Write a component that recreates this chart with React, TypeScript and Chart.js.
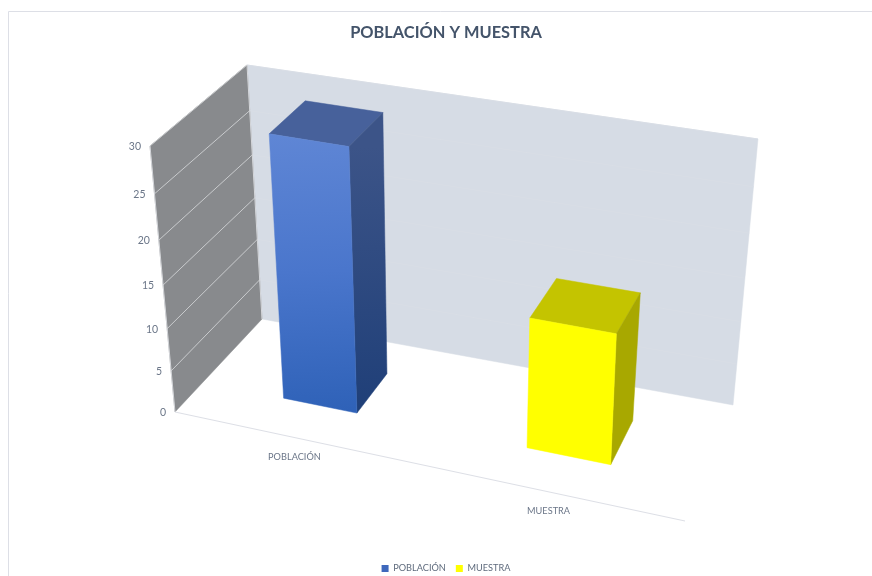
import React, { useEffect, useRef } from "react";
import { Chart, registerables } from "chart.js";

Chart.register(...registerables);

const categories = ["POBLACIÓN", "MUESTRA"];
const seriesValues = [30, 15];
const seriesName = "Serie 1";
const yTicksMax = 30;
const yTickStep = 5;
const swatchColors = ["#3E68BC", "#FFFF00"];

// Shading of each bar's three visible faces
const frontShades = [["#5F86D5", "#4A76CC", "#2F62B8"], ["#FFFF00", "#FFFF00", "#FFFF00"]];
const sideShades = [["#3C5488", "#1F3F78"], ["#A8A800", "#A8A800"]];
const topShades = ["#47619B", "#C4C400"];

type Pt = [number, number];

// The plot box in the picture: floor quad and ceiling quad (u, d corners)
const FLOOR: Pt[] = [[175, 412], [685, 521], [733, 405], [262, 319]];
const CEIL: Pt[] = [[150, 146], [700, 238], [758, 139], [247, 65]];
const HEIGHT_RATIO = 1.096;
const BAR_DEPTH: [number, number] = [0.305, 0.7];
const U_SHIFT = 0.009;

function quadMap(q: Pt[], u: number, d: number): Pt {
  const [p0, p1, p2, p3] = q;
  const dx1 = p1[0] - p2[0], dx2 = p3[0] - p2[0], sx = p0[0] - p1[0] + p2[0] - p3[0];
  const dy1 = p1[1] - p2[1], dy2 = p3[1] - p2[1], sy = p0[1] - p1[1] + p2[1] - p3[1];
  const det = dx1 * dy2 - dx2 * dy1;
  const g = (sx * dy2 - dx2 * sy) / det;
  const h = (dx1 * sy - sx * dy1) / det;
  const a = p1[0] - p0[0] + g * p1[0], b = p3[0] - p0[0] + h * p3[0];
  const e = p1[1] - p0[1] + g * p1[1], f = p3[1] - p0[1] + h * p3[1];
  const den = g * u + h * d + 1;
  return [(a * u + b * d + p0[0]) / den, (e * u + f * d + p0[1]) / den];
}

function project(u: number, d: number, w: number): Pt {
  const lo = quadMap(FLOOR, u, d);
  const hi = quadMap(CEIL, u, d);
  const t = w <= 0 ? 0 : w / (w + (1 - w) * HEIGHT_RATIO);
  return [lo[0] + (hi[0] - lo[0]) * t, lo[1] + (hi[1] - lo[1]) * t];
}

function poly(ctx: CanvasRenderingContext2D, pts: Pt[], fill: string | CanvasGradient) {
  ctx.beginPath();
  pts.forEach((p, i) => (i ? ctx.lineTo(p[0], p[1]) : ctx.moveTo(p[0], p[1])));
  ctx.closePath();
  ctx.fillStyle = fill;
  ctx.fill();
  ctx.strokeStyle = fill;
  ctx.lineWidth = 0.5;
  ctx.stroke();
}

function line(ctx: CanvasRenderingContext2D, a: Pt, b: Pt, color: string, width = 1) {
  ctx.beginPath();
  ctx.moveTo(a[0], a[1]);
  ctx.lineTo(b[0], b[1]);
  ctx.strokeStyle = color;
  ctx.lineWidth = width;
  ctx.stroke();
}

function gradient(ctx: CanvasRenderingContext2D, from: Pt, to: Pt, stops: string[]) {
  const g = ctx.createLinearGradient(from[0], from[1], to[0], to[1]);
  stops.forEach((c, i) => g.addColorStop(i / (stops.length - 1), c));
  return g;
}

const box3d = {
  id: "box3d",
  beforeDraw(chart: any) {
    const ctx: CanvasRenderingContext2D = chart.ctx;
    ctx.save();
    ctx.fillStyle = "#FFFFFF";
    ctx.fillRect(0, 0, chart.width, chart.height);
    ctx.strokeStyle = "#DDDFE6";
    ctx.lineWidth = 1;
    ctx.beginPath();
    ctx.moveTo(8.5, chart.height);
    ctx.lineTo(8.5, 11.5);
    ctx.lineTo(chart.width, 11.5);
    ctx.stroke();
    ctx.restore();
  },
  beforeDatasetsDraw(chart: any) {
    const ctx: CanvasRenderingContext2D = chart.ctx;
    const yScale = chart.scales.y;
    const xScale = chart.scales.x;
    const area = chart.chartArea;
    ctx.save();
    // back wall and side wall
    poly(ctx, [project(0, 1, 0), project(1, 1, 0), project(1, 1, 1), project(0, 1, 1)], "#D6DCE5");
    poly(ctx, [project(0, 0, 0), project(0, 1, 0), project(0, 1, 1), project(0, 0, 1)], "#888A8D");
    // value gridlines and labels
    ctx.font = "10.5px Lato";
    ctx.textAlign = "right";
    ctx.textBaseline = "middle";
    yScale.ticks.forEach((tick: any) => {
      const w = (area.bottom - yScale.getPixelForValue(tick.value)) / area.height;
      const front = project(0, 0, w);
      const back = project(0, 1, w);
      if (w > 0 && w < 1) {
        line(ctx, front, back, "#C9CBCD");
        line(ctx, back, project(1, 1, w), "#D9DEE6");
      }
      ctx.fillStyle = "#6B7688";
      ctx.fillText(String(tick.value), front[0] - 9, front[1] + 0.5);
    });
    // wall edges and floor front edge
    line(ctx, project(0, 0, 0), project(0, 0, 1), "#D4D6DA");
    line(ctx, project(0, 1, 0), project(0, 1, 1), "#D4D6DA");
    line(ctx, project(0, 0, 0), project(1, 0, 0), "#DDDFE6");
    // category labels
    ctx.textAlign = "center";
    ctx.font = "9.2px Lato";
    categories.forEach((label, i) => {
      const u = (xScale.getPixelForValue(i) - area.left) / area.width;
      const p = project(u, 0, 0);
      ctx.fillStyle = "#6B7688";
      ctx.fillText(label, p[0] + 4.5, p[1] + 20);
    });
    ctx.restore();
  },
  beforeDatasetDraw(chart: any, args: any) {
    const ctx: CanvasRenderingContext2D = chart.ctx;
    const area = chart.chartArea;
    ctx.save();
    args.meta.data.forEach((bar: any, i: number) => {
      const u0 = (bar.x - bar.width / 2 - area.left) / area.width + U_SHIFT;
      const u1 = (bar.x + bar.width / 2 - area.left) / area.width + U_SHIFT;
      const w = (bar.base - bar.y) / area.height;
      const [d0, d1] = BAR_DEPTH;
      const fbl = project(u0, d0, 0), fbr = project(u1, d0, 0);
      const ftl = project(u0, d0, w), ftr = project(u1, d0, w);
      const bbr = project(u1, d1, 0), btr = project(u1, d1, w), btl = project(u0, d1, w);
      poly(ctx, [ftl, ftr, btr, btl], topShades[i]);
      poly(ctx, [fbr, bbr, btr, ftr], gradient(ctx, [btr[0], ftr[1]], [btr[0], fbr[1]], sideShades[i]));
      poly(ctx, [fbl, fbr, ftr, ftl], gradient(ctx, [ftl[0], ftl[1]], [fbl[0], fbr[1]], frontShades[i]));
    });
    ctx.restore();
    return false;
  },
};

export default function App() {
  const ref = useRef<HTMLCanvasElement>(null);
  useEffect(() => {
    if (!ref.current) return;
    const chart = new Chart(ref.current, {
      type: "bar",
      data: {
        labels: categories,
        datasets: [{
          label: seriesName,
          data: seriesValues,
          backgroundColor: swatchColors,
          barPercentage: 0.315,
          categoryPercentage: 1,
        }],
      },
      options: {
        responsive: false,
        animation: false,
        layout: { padding: { left: 20, right: 0, top: 0, bottom: -7 } },
        plugins: {
          title: {
            display: true,
            text: "POBLACIÓN Y MUESTRA",
            color: "#44546A",
            font: { family: "Lato", size: 16.4, weight: "bold" },
            padding: { top: 23, bottom: 10 },
          },
          legend: {
            position: "bottom",
            labels: {
              color: "#5F6B7D",
              font: { family: "Lato", size: 9.2 },
              usePointStyle: true,
              pointStyle: "rect",
              boxWidth: 7,
              boxHeight: 7,
              padding: 10,
              generateLabels: (c: any) =>
                c.data.labels.map((text: string, i: number) => ({
                  text,
                  fillStyle: c.data.datasets[0].backgroundColor[i],
                  strokeStyle: c.data.datasets[0].backgroundColor[i],
                  lineWidth: 0,
                  fontColor: "#5F6B7D",
                  pointStyle: "rect",
                  index: i,
                })),
            },
          },
          tooltip: { enabled: false },
        },
        scales: {
          x: { display: false, grid: { display: false } },
          y: { display: false, min: 0, max: yTicksMax, ticks: { stepSize: yTickStep } },
        },
      },
      plugins: [box3d],
    } as any);
    return () => chart.destroy();
  }, []);
  return (
    <div style={{ position: "absolute", left: 0, top: 0, width: 872, height: 576, overflow: "hidden" }}>
      <canvas ref={ref} width={872} height={576} style={{ display: "block" }} />
    </div>
  );
}
